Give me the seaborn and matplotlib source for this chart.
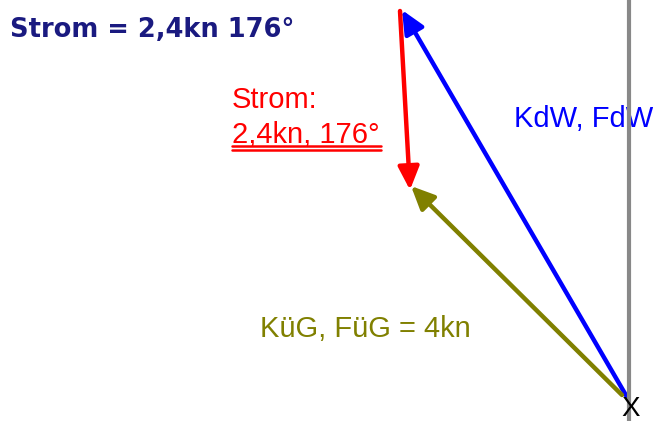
import matplotlib
matplotlib.use('Agg')
import matplotlib.pyplot as plt
import seaborn as sns
import pandas as pd

# pontos dos vetores (coordenadas do desenho, y para baixo)
vetor_nomes = ['KdW', 'Strom', 'KuG']
vetor_inicio_x = [627, 400, 622]
vetor_inicio_y = [397, 11, 395]
vetor_fim_x = [402, 410, 411]
vetor_fim_y = [10, 190, 186]
vetor_cores = ['#0000ff', '#ff0000', '#808000']

# linha cinza (Norte)
norte_x = [629, 629]
norte_y = [0, 421]

sns.set_theme(style="white")
plt.rcParams['font.family'] = ['Liberation Sans', 'DejaVu Sans']

fig = plt.figure(figsize=(6.53, 4.21), dpi=100)
ax = fig.add_axes([0, 0, 1, 1])

df_norte = pd.DataFrame({'x': norte_x, 'y': norte_y})
sns.lineplot(data=df_norte, x='x', y='y', color='#888888', linewidth=3, ax=ax,
             sort=False, estimator=None, zorder=5)

for i in range(len(vetor_nomes)):
    ax.annotate('', xy=(vetor_fim_x[i], vetor_fim_y[i]),
                xytext=(vetor_inicio_x[i], vetor_inicio_y[i]),
                arrowprops=dict(arrowstyle='-|>,head_length=0.7,head_width=0.32',
                                color=vetor_cores[i], lw=3.2, mutation_scale=20,
                                shrinkA=0, shrinkB=0))

# textos
ax.text(10, 37, 'Strom = 2,4kn 176°', color='#1a1a80', fontsize=18.5,
        fontweight='bold', family=['DejaVu Sans'], va='baseline')
ax.text(232, 108, 'Strom:', color='#ff0000', fontsize=21, va='baseline')
ax.text(232, 143, '2,4kn, 176°', color='#ff0000', fontsize=21, va='baseline')
ax.plot([232, 381], [145.5, 145.5], color='#ff0000', lw=1.8)
ax.plot([232, 381], [149.5, 149.5], color='#ff0000', lw=1.8)
ax.text(514, 127, 'KdW, FdW', color='#0000ff', fontsize=21, va='baseline')
ax.text(260, 337, 'KüG, FüG = 4kn', color='#808000', fontsize=21, va='baseline')
ax.text(631, 416, 'X', color='black', fontsize=20, va='baseline', ha='center', zorder=6)

ax.set_xlim(0, 653)
ax.set_ylim(421, 0)
ax.axis('off')

plt.savefig('out.png', dpi=100)
